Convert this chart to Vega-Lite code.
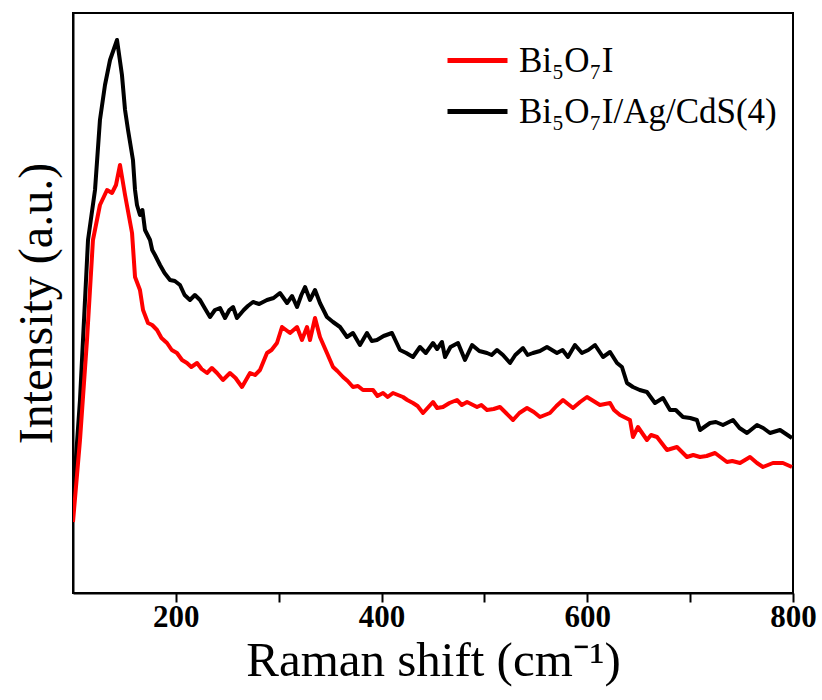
{
  "$schema": "https://vega.github.io/schema/vega-lite/v6.json",
  "width": 720,
  "height": 580,
  "autosize": {"type": "none"},
  "padding": {"left": 73, "top": 13, "right": 29, "bottom": 107},
  "background": "white",
  "config": {
    "view": {"stroke": "black", "strokeWidth": 2},
    "font": "Liberation Serif"
  },
  "data": {
    "values": [
      {"series": "Bi₅O₇I/Ag/CdS(4)", "shift": 100, "intensity": 93},
      {"series": "Bi₅O₇I/Ag/CdS(4)", "shift": 106.8, "intensity": 193},
      {"series": "Bi₅O₇I/Ag/CdS(4)", "shift": 114.6, "intensity": 353},
      {"series": "Bi₅O₇I/Ag/CdS(4)", "shift": 121.4, "intensity": 403},
      {"series": "Bi₅O₇I/Ag/CdS(4)", "shift": 126.2, "intensity": 473},
      {"series": "Bi₅O₇I/Ag/CdS(4)", "shift": 131.1, "intensity": 508},
      {"series": "Bi₅O₇I/Ag/CdS(4)", "shift": 136.0, "intensity": 533},
      {"series": "Bi₅O₇I/Ag/CdS(4)", "shift": 142.8, "intensity": 553},
      {"series": "Bi₅O₇I/Ag/CdS(4)", "shift": 147.6, "intensity": 518},
      {"series": "Bi₅O₇I/Ag/CdS(4)", "shift": 150.6, "intensity": 483},
      {"series": "Bi₅O₇I/Ag/CdS(4)", "shift": 153.5, "intensity": 463},
      {"series": "Bi₅O₇I/Ag/CdS(4)", "shift": 158.3, "intensity": 433},
      {"series": "Bi₅O₇I/Ag/CdS(4)", "shift": 160.3, "intensity": 403},
      {"series": "Bi₅O₇I/Ag/CdS(4)", "shift": 162.2, "intensity": 388},
      {"series": "Bi₅O₇I/Ag/CdS(4)", "shift": 165.1, "intensity": 378},
      {"series": "Bi₅O₇I/Ag/CdS(4)", "shift": 167.5, "intensity": 383},
      {"series": "Bi₅O₇I/Ag/CdS(4)", "shift": 170.0, "intensity": 363},
      {"series": "Bi₅O₇I/Ag/CdS(4)", "shift": 174.9, "intensity": 353},
      {"series": "Bi₅O₇I/Ag/CdS(4)", "shift": 177.0, "intensity": 343},
      {"series": "Bi₅O₇I/Ag/CdS(4)", "shift": 179.7, "intensity": 338},
      {"series": "Bi₅O₇I/Ag/CdS(4)", "shift": 184.6, "intensity": 328},
      {"series": "Bi₅O₇I/Ag/CdS(4)", "shift": 189.0, "intensity": 320},
      {"series": "Bi₅O₇I/Ag/CdS(4)", "shift": 194.3, "intensity": 313},
      {"series": "Bi₅O₇I/Ag/CdS(4)", "shift": 199.0, "intensity": 312},
      {"series": "Bi₅O₇I/Ag/CdS(4)", "shift": 204.0, "intensity": 308},
      {"series": "Bi₅O₇I/Ag/CdS(4)", "shift": 208.5, "intensity": 298},
      {"series": "Bi₅O₇I/Ag/CdS(4)", "shift": 213.7, "intensity": 293},
      {"series": "Bi₅O₇I/Ag/CdS(4)", "shift": 218.5, "intensity": 298},
      {"series": "Bi₅O₇I/Ag/CdS(4)", "shift": 223.5, "intensity": 293},
      {"series": "Bi₅O₇I/Ag/CdS(4)", "shift": 228.0, "intensity": 285},
      {"series": "Bi₅O₇I/Ag/CdS(4)", "shift": 233.2, "intensity": 276},
      {"series": "Bi₅O₇I/Ag/CdS(4)", "shift": 238.0, "intensity": 283},
      {"series": "Bi₅O₇I/Ag/CdS(4)", "shift": 242.9, "intensity": 285},
      {"series": "Bi₅O₇I/Ag/CdS(4)", "shift": 247.8, "intensity": 275},
      {"series": "Bi₅O₇I/Ag/CdS(4)", "shift": 252.0, "intensity": 283},
      {"series": "Bi₅O₇I/Ag/CdS(4)", "shift": 255.6, "intensity": 286},
      {"series": "Bi₅O₇I/Ag/CdS(4)", "shift": 259.4, "intensity": 275},
      {"series": "Bi₅O₇I/Ag/CdS(4)", "shift": 266.0, "intensity": 283},
      {"series": "Bi₅O₇I/Ag/CdS(4)", "shift": 270.0, "intensity": 287},
      {"series": "Bi₅O₇I/Ag/CdS(4)", "shift": 275.0, "intensity": 291},
      {"series": "Bi₅O₇I/Ag/CdS(4)", "shift": 281.0, "intensity": 289},
      {"series": "Bi₅O₇I/Ag/CdS(4)", "shift": 288.6, "intensity": 293},
      {"series": "Bi₅O₇I/Ag/CdS(4)", "shift": 295.0, "intensity": 295},
      {"series": "Bi₅O₇I/Ag/CdS(4)", "shift": 301.2, "intensity": 300},
      {"series": "Bi₅O₇I/Ag/CdS(4)", "shift": 304.0, "intensity": 296},
      {"series": "Bi₅O₇I/Ag/CdS(4)", "shift": 308.1, "intensity": 290},
      {"series": "Bi₅O₇I/Ag/CdS(4)", "shift": 313.0, "intensity": 297},
      {"series": "Bi₅O₇I/Ag/CdS(4)", "shift": 317.8, "intensity": 286},
      {"series": "Bi₅O₇I/Ag/CdS(4)", "shift": 322.0, "intensity": 298},
      {"series": "Bi₅O₇I/Ag/CdS(4)", "shift": 325.6, "intensity": 306},
      {"series": "Bi₅O₇I/Ag/CdS(4)", "shift": 330.4, "intensity": 293},
      {"series": "Bi₅O₇I/Ag/CdS(4)", "shift": 335.3, "intensity": 303},
      {"series": "Bi₅O₇I/Ag/CdS(4)", "shift": 340.1, "intensity": 290},
      {"series": "Bi₅O₇I/Ag/CdS(4)", "shift": 346.9, "intensity": 276},
      {"series": "Bi₅O₇I/Ag/CdS(4)", "shift": 352.8, "intensity": 271},
      {"series": "Bi₅O₇I/Ag/CdS(4)", "shift": 359.6, "intensity": 266},
      {"series": "Bi₅O₇I/Ag/CdS(4)", "shift": 366.4, "intensity": 256},
      {"series": "Bi₅O₇I/Ag/CdS(4)", "shift": 372.2, "intensity": 260},
      {"series": "Bi₅O₇I/Ag/CdS(4)", "shift": 379.0, "intensity": 248},
      {"series": "Bi₅O₇I/Ag/CdS(4)", "shift": 385.8, "intensity": 260},
      {"series": "Bi₅O₇I/Ag/CdS(4)", "shift": 390.5, "intensity": 252},
      {"series": "Bi₅O₇I/Ag/CdS(4)", "shift": 395.5, "intensity": 253},
      {"series": "Bi₅O₇I/Ag/CdS(4)", "shift": 402.0, "intensity": 257},
      {"series": "Bi₅O₇I/Ag/CdS(4)", "shift": 410.1, "intensity": 260},
      {"series": "Bi₅O₇I/Ag/CdS(4)", "shift": 417.9, "intensity": 243},
      {"series": "Bi₅O₇I/Ag/CdS(4)", "shift": 424.0, "intensity": 240},
      {"series": "Bi₅O₇I/Ag/CdS(4)", "shift": 430.5, "intensity": 236},
      {"series": "Bi₅O₇I/Ag/CdS(4)", "shift": 437.3, "intensity": 246},
      {"series": "Bi₅O₇I/Ag/CdS(4)", "shift": 443.0, "intensity": 240},
      {"series": "Bi₅O₇I/Ag/CdS(4)", "shift": 450.0, "intensity": 250},
      {"series": "Bi₅O₇I/Ag/CdS(4)", "shift": 454.0, "intensity": 244},
      {"series": "Bi₅O₇I/Ag/CdS(4)", "shift": 458.7, "intensity": 251},
      {"series": "Bi₅O₇I/Ag/CdS(4)", "shift": 461.7, "intensity": 236},
      {"series": "Bi₅O₇I/Ag/CdS(4)", "shift": 467.0, "intensity": 246},
      {"series": "Bi₅O₇I/Ag/CdS(4)", "shift": 474.3, "intensity": 250},
      {"series": "Bi₅O₇I/Ag/CdS(4)", "shift": 481.1, "intensity": 233},
      {"series": "Bi₅O₇I/Ag/CdS(4)", "shift": 488.0, "intensity": 248},
      {"series": "Bi₅O₇I/Ag/CdS(4)", "shift": 495.0, "intensity": 242},
      {"series": "Bi₅O₇I/Ag/CdS(4)", "shift": 502.5, "intensity": 240},
      {"series": "Bi₅O₇I/Ag/CdS(4)", "shift": 507.0, "intensity": 238},
      {"series": "Bi₅O₇I/Ag/CdS(4)", "shift": 512.2, "intensity": 243},
      {"series": "Bi₅O₇I/Ag/CdS(4)", "shift": 518.0, "intensity": 238},
      {"series": "Bi₅O₇I/Ag/CdS(4)", "shift": 524.9, "intensity": 230},
      {"series": "Bi₅O₇I/Ag/CdS(4)", "shift": 530.0, "intensity": 238},
      {"series": "Bi₅O₇I/Ag/CdS(4)", "shift": 537.5, "intensity": 245},
      {"series": "Bi₅O₇I/Ag/CdS(4)", "shift": 542.0, "intensity": 238},
      {"series": "Bi₅O₇I/Ag/CdS(4)", "shift": 547.2, "intensity": 240},
      {"series": "Bi₅O₇I/Ag/CdS(4)", "shift": 554.0, "intensity": 242},
      {"series": "Bi₅O₇I/Ag/CdS(4)", "shift": 560.8, "intensity": 246},
      {"series": "Bi₅O₇I/Ag/CdS(4)", "shift": 570.5, "intensity": 240},
      {"series": "Bi₅O₇I/Ag/CdS(4)", "shift": 576.0, "intensity": 243},
      {"series": "Bi₅O₇I/Ag/CdS(4)", "shift": 581.2, "intensity": 236},
      {"series": "Bi₅O₇I/Ag/CdS(4)", "shift": 588.0, "intensity": 248},
      {"series": "Bi₅O₇I/Ag/CdS(4)", "shift": 594.8, "intensity": 240},
      {"series": "Bi₅O₇I/Ag/CdS(4)", "shift": 601.0, "intensity": 243},
      {"series": "Bi₅O₇I/Ag/CdS(4)", "shift": 607.5, "intensity": 248},
      {"series": "Bi₅O₇I/Ag/CdS(4)", "shift": 615.3, "intensity": 236},
      {"series": "Bi₅O₇I/Ag/CdS(4)", "shift": 622.1, "intensity": 241},
      {"series": "Bi₅O₇I/Ag/CdS(4)", "shift": 628.9, "intensity": 230},
      {"series": "Bi₅O₇I/Ag/CdS(4)", "shift": 633.7, "intensity": 226},
      {"series": "Bi₅O₇I/Ag/CdS(4)", "shift": 638.6, "intensity": 210},
      {"series": "Bi₅O₇I/Ag/CdS(4)", "shift": 644.4, "intensity": 206},
      {"series": "Bi₅O₇I/Ag/CdS(4)", "shift": 651.0, "intensity": 203},
      {"series": "Bi₅O₇I/Ag/CdS(4)", "shift": 658.0, "intensity": 201},
      {"series": "Bi₅O₇I/Ag/CdS(4)", "shift": 665.8, "intensity": 190},
      {"series": "Bi₅O₇I/Ag/CdS(4)", "shift": 673.6, "intensity": 195},
      {"series": "Bi₅O₇I/Ag/CdS(4)", "shift": 680.4, "intensity": 183},
      {"series": "Bi₅O₇I/Ag/CdS(4)", "shift": 686.0, "intensity": 183},
      {"series": "Bi₅O₇I/Ag/CdS(4)", "shift": 693.0, "intensity": 176},
      {"series": "Bi₅O₇I/Ag/CdS(4)", "shift": 700.0, "intensity": 175},
      {"series": "Bi₅O₇I/Ag/CdS(4)", "shift": 706.6, "intensity": 173},
      {"series": "Bi₅O₇I/Ag/CdS(4)", "shift": 709.6, "intensity": 163},
      {"series": "Bi₅O₇I/Ag/CdS(4)", "shift": 719.3, "intensity": 170},
      {"series": "Bi₅O₇I/Ag/CdS(4)", "shift": 725.0, "intensity": 171},
      {"series": "Bi₅O₇I/Ag/CdS(4)", "shift": 731.9, "intensity": 168},
      {"series": "Bi₅O₇I/Ag/CdS(4)", "shift": 741.7, "intensity": 173},
      {"series": "Bi₅O₇I/Ag/CdS(4)", "shift": 748.0, "intensity": 165},
      {"series": "Bi₅O₇I/Ag/CdS(4)", "shift": 755.3, "intensity": 160},
      {"series": "Bi₅O₇I/Ag/CdS(4)", "shift": 765.0, "intensity": 168},
      {"series": "Bi₅O₇I/Ag/CdS(4)", "shift": 771.0, "intensity": 165},
      {"series": "Bi₅O₇I/Ag/CdS(4)", "shift": 777.6, "intensity": 160},
      {"series": "Bi₅O₇I/Ag/CdS(4)", "shift": 787.4, "intensity": 163},
      {"series": "Bi₅O₇I/Ag/CdS(4)", "shift": 799.0, "intensity": 155},
      {"series": "Bi₅O₇I", "shift": 100, "intensity": 71},
      {"series": "Bi₅O₇I", "shift": 106.8, "intensity": 153},
      {"series": "Bi₅O₇I", "shift": 113.6, "intensity": 253},
      {"series": "Bi₅O₇I", "shift": 119.4, "intensity": 353},
      {"series": "Bi₅O₇I", "shift": 126.2, "intensity": 388},
      {"series": "Bi₅O₇I", "shift": 133.1, "intensity": 403},
      {"series": "Bi₅O₇I", "shift": 137.9, "intensity": 400},
      {"series": "Bi₅O₇I", "shift": 141.8, "intensity": 408},
      {"series": "Bi₅O₇I", "shift": 145.7, "intensity": 428},
      {"series": "Bi₅O₇I", "shift": 150.6, "intensity": 398},
      {"series": "Bi₅O₇I", "shift": 157.4, "intensity": 360},
      {"series": "Bi₅O₇I", "shift": 160.3, "intensity": 316},
      {"series": "Bi₅O₇I", "shift": 165.1, "intensity": 303},
      {"series": "Bi₅O₇I", "shift": 168.1, "intensity": 283},
      {"series": "Bi₅O₇I", "shift": 172.9, "intensity": 270},
      {"series": "Bi₅O₇I", "shift": 177.0, "intensity": 268},
      {"series": "Bi₅O₇I", "shift": 181.7, "intensity": 263},
      {"series": "Bi₅O₇I", "shift": 186.0, "intensity": 255},
      {"series": "Bi₅O₇I", "shift": 191.4, "intensity": 250},
      {"series": "Bi₅O₇I", "shift": 196.0, "intensity": 243},
      {"series": "Bi₅O₇I", "shift": 201.1, "intensity": 240},
      {"series": "Bi₅O₇I", "shift": 206.0, "intensity": 233},
      {"series": "Bi₅O₇I", "shift": 210.8, "intensity": 230},
      {"series": "Bi₅O₇I", "shift": 215.0, "intensity": 226},
      {"series": "Bi₅O₇I", "shift": 220.6, "intensity": 230},
      {"series": "Bi₅O₇I", "shift": 225.0, "intensity": 224},
      {"series": "Bi₅O₇I", "shift": 230.3, "intensity": 220},
      {"series": "Bi₅O₇I", "shift": 235.0, "intensity": 225},
      {"series": "Bi₅O₇I", "shift": 240.0, "intensity": 220},
      {"series": "Bi₅O₇I", "shift": 245.8, "intensity": 213},
      {"series": "Bi₅O₇I", "shift": 252.6, "intensity": 220},
      {"series": "Bi₅O₇I", "shift": 258.0, "intensity": 215},
      {"series": "Bi₅O₇I", "shift": 264.3, "intensity": 206},
      {"series": "Bi₅O₇I", "shift": 272.1, "intensity": 220},
      {"series": "Bi₅O₇I", "shift": 277.0, "intensity": 218},
      {"series": "Bi₅O₇I", "shift": 281.8, "intensity": 223},
      {"series": "Bi₅O₇I", "shift": 288.6, "intensity": 240},
      {"series": "Bi₅O₇I", "shift": 293.0, "intensity": 243},
      {"series": "Bi₅O₇I", "shift": 298.3, "intensity": 250},
      {"series": "Bi₅O₇I", "shift": 303.2, "intensity": 266},
      {"series": "Bi₅O₇I", "shift": 311.0, "intensity": 260},
      {"series": "Bi₅O₇I", "shift": 317.8, "intensity": 266},
      {"series": "Bi₅O₇I", "shift": 322.6, "intensity": 253},
      {"series": "Bi₅O₇I", "shift": 327.5, "intensity": 266},
      {"series": "Bi₅O₇I", "shift": 330.4, "intensity": 253},
      {"series": "Bi₅O₇I", "shift": 335.3, "intensity": 275},
      {"series": "Bi₅O₇I", "shift": 340.1, "intensity": 256},
      {"series": "Bi₅O₇I", "shift": 346.9, "intensity": 240},
      {"series": "Bi₅O₇I", "shift": 352.8, "intensity": 226},
      {"series": "Bi₅O₇I", "shift": 357.0, "intensity": 222},
      {"series": "Bi₅O₇I", "shift": 362.5, "intensity": 216},
      {"series": "Bi₅O₇I", "shift": 367.0, "intensity": 212},
      {"series": "Bi₅O₇I", "shift": 372.2, "intensity": 206},
      {"series": "Bi₅O₇I", "shift": 377.0, "intensity": 207},
      {"series": "Bi₅O₇I", "shift": 381.9, "intensity": 203},
      {"series": "Bi₅O₇I", "shift": 391.7, "intensity": 203},
      {"series": "Bi₅O₇I", "shift": 396.0, "intensity": 197},
      {"series": "Bi₅O₇I", "shift": 401.4, "intensity": 200},
      {"series": "Bi₅O₇I", "shift": 406.0, "intensity": 196},
      {"series": "Bi₅O₇I", "shift": 411.1, "intensity": 200},
      {"series": "Bi₅O₇I", "shift": 420.8, "intensity": 196},
      {"series": "Bi₅O₇I", "shift": 425.0, "intensity": 193},
      {"series": "Bi₅O₇I", "shift": 430.5, "intensity": 190},
      {"series": "Bi₅O₇I", "shift": 435.0, "intensity": 187},
      {"series": "Bi₅O₇I", "shift": 440.3, "intensity": 180},
      {"series": "Bi₅O₇I", "shift": 450.0, "intensity": 191},
      {"series": "Bi₅O₇I", "shift": 454.0, "intensity": 185},
      {"series": "Bi₅O₇I", "shift": 459.7, "intensity": 186},
      {"series": "Bi₅O₇I", "shift": 466.0, "intensity": 190},
      {"series": "Bi₅O₇I", "shift": 473.3, "intensity": 193},
      {"series": "Bi₅O₇I", "shift": 478.0, "intensity": 188},
      {"series": "Bi₅O₇I", "shift": 483.1, "intensity": 191},
      {"series": "Bi₅O₇I", "shift": 492.8, "intensity": 186},
      {"series": "Bi₅O₇I", "shift": 497.0, "intensity": 188},
      {"series": "Bi₅O₇I", "shift": 502.5, "intensity": 183},
      {"series": "Bi₅O₇I", "shift": 509.0, "intensity": 184},
      {"series": "Bi₅O₇I", "shift": 515.1, "intensity": 186},
      {"series": "Bi₅O₇I", "shift": 521.0, "intensity": 180},
      {"series": "Bi₅O₇I", "shift": 527.8, "intensity": 173},
      {"series": "Bi₅O₇I", "shift": 534.0, "intensity": 180},
      {"series": "Bi₅O₇I", "shift": 541.4, "intensity": 185},
      {"series": "Bi₅O₇I", "shift": 548.0, "intensity": 181},
      {"series": "Bi₅O₇I", "shift": 554.0, "intensity": 176},
      {"series": "Bi₅O₇I", "shift": 563.7, "intensity": 180},
      {"series": "Bi₅O₇I", "shift": 570.0, "intensity": 187},
      {"series": "Bi₅O₇I", "shift": 576.4, "intensity": 193},
      {"series": "Bi₅O₇I", "shift": 586.1, "intensity": 185},
      {"series": "Bi₅O₇I", "shift": 593.0, "intensity": 191},
      {"series": "Bi₅O₇I", "shift": 599.7, "intensity": 196},
      {"series": "Bi₅O₇I", "shift": 606.0, "intensity": 192},
      {"series": "Bi₅O₇I", "shift": 612.3, "intensity": 188},
      {"series": "Bi₅O₇I", "shift": 622.1, "intensity": 190},
      {"series": "Bi₅O₇I", "shift": 626.0, "intensity": 183},
      {"series": "Bi₅O₇I", "shift": 631.8, "intensity": 178},
      {"series": "Bi₅O₇I", "shift": 641.5, "intensity": 173},
      {"series": "Bi₅O₇I", "shift": 644.4, "intensity": 156},
      {"series": "Bi₅O₇I", "shift": 649.3, "intensity": 166},
      {"series": "Bi₅O₇I", "shift": 658.0, "intensity": 153},
      {"series": "Bi₅O₇I", "shift": 662.0, "intensity": 158},
      {"series": "Bi₅O₇I", "shift": 667.8, "intensity": 156},
      {"series": "Bi₅O₇I", "shift": 677.5, "intensity": 143},
      {"series": "Bi₅O₇I", "shift": 687.2, "intensity": 146},
      {"series": "Bi₅O₇I", "shift": 696.9, "intensity": 136},
      {"series": "Bi₅O₇I", "shift": 703.0, "intensity": 138},
      {"series": "Bi₅O₇I", "shift": 709.6, "intensity": 136},
      {"series": "Bi₅O₇I", "shift": 716.0, "intensity": 137},
      {"series": "Bi₅O₇I", "shift": 724.2, "intensity": 140},
      {"series": "Bi₅O₇I", "shift": 735.8, "intensity": 131},
      {"series": "Bi₅O₇I", "shift": 741.0, "intensity": 132},
      {"series": "Bi₅O₇I", "shift": 748.5, "intensity": 130},
      {"series": "Bi₅O₇I", "shift": 758.2, "intensity": 136},
      {"series": "Bi₅O₇I", "shift": 765.0, "intensity": 130},
      {"series": "Bi₅O₇I", "shift": 770.8, "intensity": 126},
      {"series": "Bi₅O₇I", "shift": 780.5, "intensity": 130},
      {"series": "Bi₅O₇I", "shift": 790.2, "intensity": 130},
      {"series": "Bi₅O₇I", "shift": 799.0, "intensity": 126}
    ]
  },
  "mark": {"type": "line", "strokeWidth": 4, "strokeJoin": "round", "clip": true},
  "encoding": {
    "x": {
      "field": "shift",
      "type": "quantitative",
      "scale": {"domain": [100, 800], "nice": false, "zero": false},
      "axis": {
        "title": "Raman shift (cm⁻¹)",
        "titleFont": "Liberation Serif",
        "titleFontSize": 49,
        "titleFontWeight": "normal",
        "titleColor": "black",
        "titlePadding": 4,
        "values": [200, 300, 400, 500, 600, 700, 800],
        "labelExpr": "datum.value % 200 === 0 ? datum.label : ''",
        "labelFont": "Liberation Serif",
        "labelFontSize": 31,
        "labelFontWeight": "bold",
        "labelColor": "black",
        "labelPadding": 0,
        "labelFlush": false,
        "tickSize": 9,
        "tickWidth": 2,
        "tickColor": "black",
        "domainColor": "black",
        "domainWidth": 2,
        "grid": false,
        "encode": {
          "ticks": {
            "update": {
              "y2": {"signal": "datum.value % 200 === 0 ? -10 : -6"}
            }
          }
        }
      }
    },
    "y": {
      "field": "intensity",
      "type": "quantitative",
      "scale": {"domain": [0, 580], "nice": false},
      "axis": {
        "title": "Intensity (a.u.)",
        "titleFont": "Liberation Serif",
        "titleFontSize": 48,
        "titleFontWeight": "normal",
        "titleColor": "black",
        "titlePadding": 12,
        "labels": false,
        "ticks": false,
        "grid": false,
        "domainColor": "black",
        "domainWidth": 2
      }
    },
    "color": {
      "field": "series",
      "type": "nominal",
      "scale": {"domain": ["Bi₅O₇I", "Bi₅O₇I/Ag/CdS(4)"], "range": ["#ff0000", "#000000"]},
      "legend": {
        "title": null,
        "orient": "none",
        "legendX": 372,
        "legendY": 15,
        "padding": 0,
        "symbolType": "stroke",
        "symbolSize": 3600,
        "symbolStrokeWidth": 5,
        "labelFont": "Liberation Serif",
        "labelFontSize": 35,
        "labelColor": "black",
        "labelOffset": 9,
        "labelLimit": 400,
        "rowPadding": -1
      }
    }
  }
}
